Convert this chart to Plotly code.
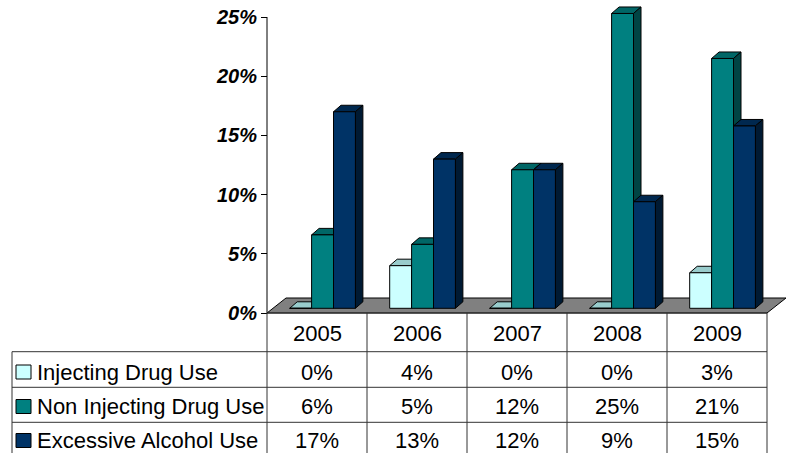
import plotly.graph_objects as go

# ---------------- data ----------------
years = ["2005", "2006", "2007", "2008", "2009"]
series_names = ["Injecting Drug Use", "Non Injecting Drug Use", "Excessive Alcohol Use"]
injecting = [0.0, 3.6, 0.0, 0.0, 3.0]
non_injecting = [6.2, 5.4, 11.7, 24.9, 21.1]
excessive = [16.6, 12.6, 11.7, 9.0, 15.4]
y_tick_values = [0, 5, 10, 15, 20, 25]
y_tick_labels = ["0%", "5%", "10%", "15%", "20%", "25%"]

# ---------------- style ----------------
front_colors = ["#CCFFFF", "#008080", "#003366"]
top_colors = ["#99CCCC", "#006666", "#00284F"]
side_colors = ["#6B9999", "#004444", "#001A33"]
FONT = "Liberation Sans, Arial, sans-serif"

W, H = 790, 453
PX0 = 267.0          # pixel x of category axis start
PXU = 100.0          # pixels per category
Y0PX = 313.0         # pixel y of 0 %
K = 296.0 / 25.0     # pixels per 1 %

# 3D geometry (data units)
FLOOR_DX, FLOOR_DY = 0.19, 15.0 / K
BAR_BASE = 4.7 / K
GROUP_OFF = 0.227
BAR_W = 0.219
DDX, DDY = 0.075, 6.5 / K

series_values = [injecting, non_injecting, excessive]

fig = go.Figure()

# floor
fig.add_trace(go.Scatter(
    x=[0, len(years), len(years) + FLOOR_DX, FLOOR_DX, 0],
    y=[0, 0, FLOOR_DY, FLOOR_DY, 0],
    mode="lines", fill="toself", fillcolor="#808080",
    line=dict(color="#000000", width=1), hoverinfo="skip", showlegend=False))

# top and side faces
for i in range(len(years)):
    for j, vals in enumerate(series_values):
        xl = i + GROUP_OFF + j * BAR_W
        xr = xl + BAR_W
        t = BAR_BASE + vals[i]
        fig.add_trace(go.Scatter(
            x=[xl, xr, xr + DDX, xl + DDX, xl],
            y=[t, t, t + DDY, t + DDY, t],
            mode="lines", fill="toself", fillcolor=top_colors[j],
            line=dict(color="#000000", width=1), hoverinfo="skip", showlegend=False))
        if vals[i] > 0:
            fig.add_trace(go.Scatter(
                x=[xr, xr + DDX, xr + DDX, xr, xr],
                y=[BAR_BASE, BAR_BASE + DDY, t + DDY, t, BAR_BASE],
                mode="lines", fill="toself", fillcolor=side_colors[j],
                line=dict(color="#000000", width=1), hoverinfo="skip", showlegend=False))

# front faces (real bars, on an overlaying subplot so they paint on top)
for j, vals in enumerate(series_values):
    fig.add_trace(go.Bar(
        x=[i + GROUP_OFF + j * BAR_W + BAR_W / 2 for i in range(len(years))],
        y=vals, base=BAR_BASE, width=BAR_W,
        marker=dict(color=front_colors[j], line=dict(color="#000000", width=1)),
        name=series_names[j], xaxis="x2", yaxis="y2", showlegend=False))

x_range = [-PX0 / PXU, (W - PX0) / PXU]
y_range = [-(H - Y0PX) / K, Y0PX / K]

def paper_y(px):
    return (H - px) / H

shapes = []
# y-axis line
shapes.append(dict(type="line", xref="x", yref="y", x0=0, x1=0, y0=0, y1=25,
                   line=dict(color="#000000", width=1)))

# table grid
TABLE_LINE = dict(color="#333333", width=1)
row_lines_px = [351.7, 387.3, 422.3]
LEG_LEFT = (12 - PX0) / PXU
for i in range(len(years) + 1):
    shapes.append(dict(type="line", xref="x", yref="paper", x0=i, x1=i,
                       y0=paper_y(Y0PX), y1=paper_y(H + 5), line=TABLE_LINE))
shapes.append(dict(type="line", xref="x", yref="paper", x0=LEG_LEFT, x1=LEG_LEFT,
                   y0=paper_y(row_lines_px[0]), y1=paper_y(H + 5), line=TABLE_LINE))
shapes.append(dict(type="line", xref="x", yref="paper", x0=0, x1=len(years),
                   y0=paper_y(Y0PX), y1=paper_y(Y0PX), line=TABLE_LINE))
for rp in row_lines_px:
    shapes.append(dict(type="line", xref="x", yref="paper", x0=LEG_LEFT, x1=len(years),
                       y0=paper_y(rp), y1=paper_y(rp), line=TABLE_LINE))

annotations = []
header_center = 333.0
row_centers = [372.0, 406.5, 440.5]
TXT = 22
for i, yr in enumerate(years):
    annotations.append(dict(x=i + 0.5, y=paper_y(header_center), xref="x", yref="paper",
                            text=yr, showarrow=False, xanchor="center", yanchor="middle",
                            font=dict(family=FONT, size=TXT, color="#000000")))
for j, vals in enumerate(series_values):
    yc = paper_y(row_centers[j])
    for i, v in enumerate(vals):
        annotations.append(dict(x=i + 0.5, y=yc, xref="x", yref="paper",
                                text=f"{int(v + 0.5)}%", showarrow=False,
                                xanchor="center", yanchor="middle",
                                font=dict(family=FONT, size=TXT, color="#000000")))
    # legend swatch + label
    sw_l, sw_r = (16 - PX0) / PXU, (31 - PX0) / PXU
    shapes.append(dict(type="rect", xref="x", yref="paper", x0=sw_l, x1=sw_r,
                       y0=paper_y(row_centers[j] + 7), y1=paper_y(row_centers[j] - 7),
                       fillcolor=front_colors[j], line=dict(color="#000000", width=1)))
    annotations.append(dict(x=(35 - PX0) / PXU, y=yc, xref="x", yref="paper",
                            text=series_names[j], showarrow=False,
                            xanchor="left", yanchor="middle",
                            font=dict(family=FONT, size=TXT, color="#000000")))

fig.update_layout(
    width=W, height=H,
    margin=dict(l=0, r=0, t=0, b=0),
    paper_bgcolor="#FFFFFF", plot_bgcolor="#FFFFFF",
    showlegend=False, barmode="overlay",
    xaxis=dict(range=x_range, domain=[0, 1], visible=False, fixedrange=True),
    yaxis=dict(range=y_range, domain=[0, 1], anchor="free", position=PX0 / W,
               showgrid=False, zeroline=False, showline=False,
               tickmode="array", tickvals=y_tick_values, ticktext=y_tick_labels,
               ticks="outside", ticklen=6, tickcolor="#000000", tickwidth=1,
               tickfont=dict(family=FONT, size=20, color="#000000",
                             weight="bold", style="italic"),
               fixedrange=True),
    xaxis2=dict(range=x_range, overlaying="x", visible=False, fixedrange=True),
    yaxis2=dict(range=y_range, overlaying="y", visible=False, fixedrange=True),
    shapes=shapes, annotations=annotations,
)

fig.write_html("out.html", config={"displayModeBar": False},
               post_script="document.body.style.margin='0';document.body.style.overflow='hidden';")
